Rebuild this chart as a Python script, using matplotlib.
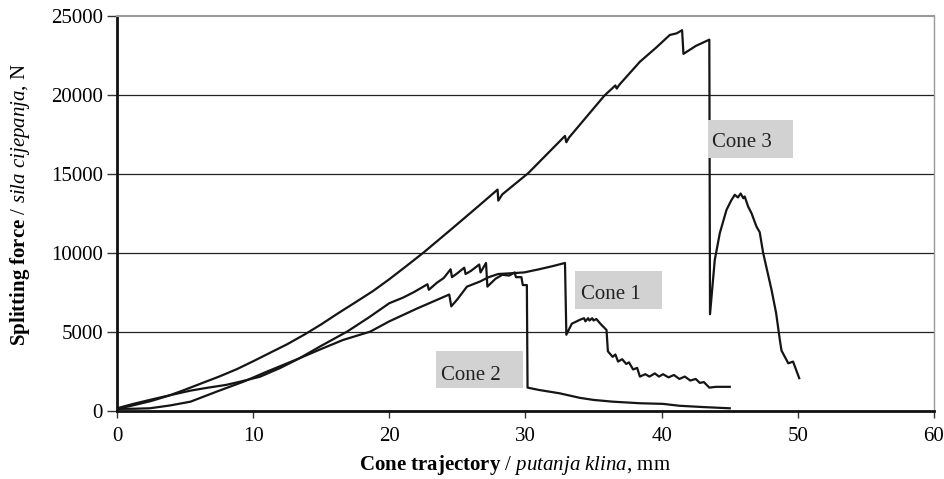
import matplotlib.pyplot as plt
from matplotlib.patches import Rectangle

plt.rcParams['font.family'] = 'Liberation Serif'
plt.rcParams['mathtext.fontset'] = 'custom'
plt.rcParams['mathtext.rm'] = 'Liberation Serif'
plt.rcParams['mathtext.it'] = 'Liberation Serif:italic'
plt.rcParams['mathtext.bf'] = 'Liberation Serif:bold'

# cone 1 (lower curve at the start, drops at ~33 mm)
cone1_x = [0, 1.2, 2.4, 3.9, 5.4, 6.7, 8.0, 9.2, 10.5, 12.0, 13.4, 15.0, 16.6, 18.6, 20.0,
           22.0, 24.4, 24.55, 25.0, 25.7, 26.65, 27.3, 28.0, 29.0, 29.9, 31.0, 32.0, 32.9,
           33.0, 33.4, 34.0, 34.3, 34.4, 34.6, 34.7, 34.9, 35.0, 35.2, 35.5, 35.95, 36.05,
           36.4, 36.6, 36.8, 37.1, 37.4, 37.6, 37.9, 38.2, 38.4, 38.8, 39.1, 39.5, 39.8,
           40.1, 40.5, 40.9, 41.3, 41.7, 42.1, 42.5, 42.8, 43.1, 43.5, 44.0, 45.0]
cone1_y = [140, 420, 670, 970, 1260, 1450, 1620, 1860, 2140, 2700, 3310, 3900, 4470, 5000,
           5650, 6450, 7350, 6600, 7050, 7850, 8170, 8450, 8650, 8700, 8750, 8950, 9150,
           9350, 4800, 5500, 5750, 5850, 5650, 5850, 5700, 5850, 5700, 5800, 5500, 5100,
           3750, 3400, 3550, 3100, 3250, 2950, 3050, 2600, 2700, 2150, 2300, 2150, 2350,
           2150, 2300, 2100, 2250, 2000, 2150, 1900, 2000, 1750, 1800, 1450, 1500, 1500]

# cone 2 (drops at ~30 mm)
cone2_x = [0, 1.2, 2.4, 3.9, 5.4, 7.3, 9.3, 11.0, 13.4, 15.0, 16.9, 18.5, 20.0, 21.0, 21.8,
           22.8, 22.9, 23.5, 24.0, 24.5, 24.6, 25.0, 25.5, 25.6, 26.0, 26.6, 26.7, 27.1,
           27.2, 27.8, 28.3, 28.8, 29.2, 29.3, 29.7, 29.8, 30.1, 30.15, 31.0, 32.5, 34.0,
           35.0, 36.4, 38.4, 40.1, 41.3, 43.0, 45.0]
cone2_y = [100, 110, 140, 320, 560, 1190, 1830, 2460, 3310, 4100, 5000, 5900, 6800, 7150,
           7500, 8000, 7650, 8100, 8400, 8950, 8450, 8700, 9050, 8650, 8850, 9250, 8750,
           9350, 7850, 8350, 8600, 8550, 8750, 8450, 8450, 7950, 7950, 1450, 1300, 1090,
           800, 670, 560, 460, 420, 300, 220, 140]

# cone 3 (highest curve)
cone3_x = [0, 1.2, 2.5, 3.8, 5, 6.2, 7.5, 8.8, 10, 11.2, 12.5, 13.8, 15, 16.2, 17.5, 18.8,
           20, 21.2, 22.5, 24.5, 26.65, 27.95, 28.0, 28.3, 30.2, 32.9, 33.0, 33.2, 35.8,
           36.6, 36.7, 36.9, 38.4, 39.6, 40.6, 41.1, 41.5, 41.6, 42.5, 43.5, 43.55, 43.9,
           44.27, 44.76, 45.1, 45.37, 45.6, 45.8, 46.0, 46.1, 46.35, 46.6, 46.96, 47.2,
           47.45, 48.07, 48.4, 48.68, 48.8, 49.3, 49.65, 50.1]
cone3_y = [100, 330, 600, 940, 1320, 1720, 2150, 2620, 3120, 3640, 4200, 4830, 5460, 6140,
           6850, 7570, 8320, 9120, 10000, 11450, 13030, 14000, 13300, 13700, 15040, 17400,
           17000, 17300, 19960, 20600, 20400, 20650, 22100, 23000, 23800, 23900, 24100,
           22600, 23100, 23500, 6100, 9540, 11240, 12710, 13300, 13670, 13500, 13750,
           13450, 13560, 12920, 12500, 11660, 11300, 10000, 7640, 6200, 4470, 3800, 2990,
           3100, 2050]

xticks = [0, 10, 20, 30, 40, 50, 60]
yticks = [0, 5000, 10000, 15000, 20000, 25000]

fig = plt.figure(figsize=(9.45, 4.79), dpi=100)
ax = fig.add_axes([117 / 945, (479 - 410.5) / 479, (934 - 117) / 945, (410.5 - 16) / 479])

for yt in yticks[1:-1]:
    ax.axhline(yt, color='#222222', lw=0.9, zorder=1)

for xs, ys in [(cone1_x, cone1_y), (cone2_x, cone2_y), (cone3_x, cone3_y)]:
    ax.plot(xs, ys, color='#151515', lw=1.6, zorder=2)

# label boxes
boxes = [(43.42, 16020, 6.2, 2390, 43.72, 17000, 'Cone 3'),
         (33.63, 6430, 6.37, 2410, 34.05, 7370, 'Cone 1'),
         (23.43, 1410, 6.36, 2360, 23.77, 2190, 'Cone 2')]
for bx, by, bw, bh, tx, ty, txt in boxes:
    ax.add_patch(Rectangle((bx, by), bw, bh, facecolor='#d2d2d2', edgecolor='none', zorder=3))
    ax.text(tx, ty, txt, fontsize=15, color='#222222', va='center', ha='left', zorder=4)

ax.set_xlim(0, 60)
ax.set_ylim(0, 25000)
ax.set_xticks(xticks)
ax.set_yticks(yticks)
ax.tick_params(axis='both', labelsize=15, direction='out', width=1, color='#333333')
ax.tick_params(axis='x', length=5, pad=7)
ax.tick_params(axis='y', length=7, pad=3)

ax.spines['left'].set_linewidth(2)
ax.spines['bottom'].set_linewidth(2)
ax.spines['left'].set_color('#111111')
ax.spines['bottom'].set_color('#111111')
ax.spines['top'].set_color('#999999')
ax.spines['top'].set_linewidth(1.5)
ax.spines['right'].set_color('#999999')
ax.spines['right'].set_linewidth(1)

ax.set_xlabel(r'$\mathbf{Cone\ trajectory}$ / $\mathit{putanja\ klina}$, mm', fontsize=15)
ax.set_ylabel(r'$\mathbf{Splitting\ force}$ / $\mathit{sila\ cijepanja}$, N', fontsize=15)
ax.xaxis.set_label_coords((515 - 117) / 817, -(465 - 410.5) / 394.5)
ax.xaxis.label.set_verticalalignment('center')
ax.yaxis.set_label_coords(-(117 - 20) / 817, (410.5 - 205) / 394.5)
ax.yaxis.label.set_verticalalignment('center')

fig.savefig('out.png', dpi=100)
